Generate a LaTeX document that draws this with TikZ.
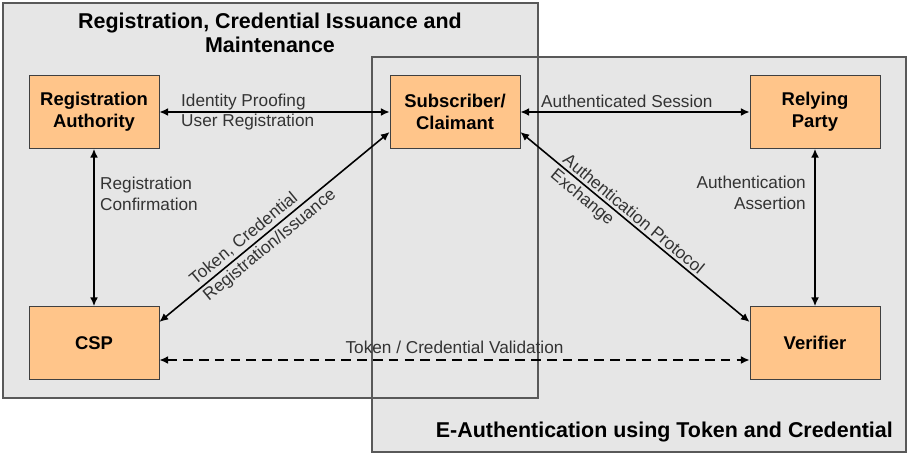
\documentclass[tikz,border=0pt]{standalone}
\usepackage{fontspec}
\setmainfont{Liberation Sans}
\usetikzlibrary{arrows.meta,calc}
\definecolor{panelgray}{HTML}{E6E6E6}
\definecolor{boxorange}{HTML}{FFC58A}
\definecolor{labelgray}{HTML}{333333}
\tikzset{
  party/.style={draw=black!75, fill=boxorange, minimum width=2.6cm, minimum height=1.46cm,
    align=center, font=\fontsize{10.5}{12.5}\selectfont\bfseries},
  flow/.style={draw, line width=0.9pt, {Latex[length=5pt,width=4.5pt]}-{Latex[length=5pt,width=4.5pt]}},
  lbl/.style={text=labelgray, font=\fontsize{9.8}{11.8}\selectfont},
  uplbl/.style={lbl, sloped, pos=0.16, anchor=south west, inner sep=1.5pt},
  downlbl/.style={lbl, sloped, pos=0.16, anchor=north west, inner sep=1.5pt},
  heading/.style={font=\fontsize{12.2}{13.6}\selectfont\bfseries, align=center},
}

\begin{document}
\begin{tikzpicture}[x=0.02cm,y=-0.02cm]
\useasboundingbox (0,0) rectangle (911,473);
\fill[panelgray] (3,3) rectangle (538,398);
\fill[panelgray] (372,57) rectangle (906,452);
\draw[black!65, line width=0.8pt] (3,3) rectangle (538,398);
\draw[black!65, line width=0.8pt] (372,57) rectangle (906,452);
\node[heading] (regtitle) at (270,33) {Registration, Credential Issuance and\\Maintenance};
\node[heading, anchor=east] (authtitle) at (899,432) {E-Authentication using Token and Credential};

\node[party] (ra) at (94,112) {Registration\\Authority};
\node[party] (sub) at (455,112) {Subscriber/\\Claimant};
\node[party] (rp) at (815,112) {Relying\\Party};
\node[party] (csp) at (94,343) {CSP};
\node[party] (ver) at (815,343) {Verifier};

\draw[flow] (ra) -- (sub);
\node[lbl, anchor=west, align=left] (idlbl) at (175,112) {Identity Proofing\\User Registration};
\draw[flow] (sub) -- (rp);
\node[lbl, anchor=west] (sesslbl) at (535,101) {Authenticated Session};
\draw[flow] (ra) -- (csp);
\node[lbl, anchor=west, align=left] (conflbl) at (94,194) {Registration\\Confirmation};
\draw[flow] (rp) -- (ver);
\node[lbl, anchor=east, align=right] (asslbl) at (812,193) {Authentication\\Assertion};

\draw[flow] ($(csp.east)+(0,-21)$) -- node[uplbl] (tokenlbl) {Token, Credential}
  node[downlbl] (issuelbl) {Registration/Issuance} ($(sub.west)+(0,20)$);
\draw[flow] ($(sub.east)+(0,20)$) -- node[uplbl] (protolbl) {Authentication Protocol}
  node[downlbl] (exchlbl) {Exchange} ($(ver.west)+(0,-21)$);
\draw[flow, dashed, dash pattern=on 5.5pt off 3.5pt] ($(csp.east)+(0,17)$) -- node[lbl, above] (validlbl)
  {Token / Credential Validation} ($(ver.west)+(0,17)$);
\end{tikzpicture}
\end{document}
